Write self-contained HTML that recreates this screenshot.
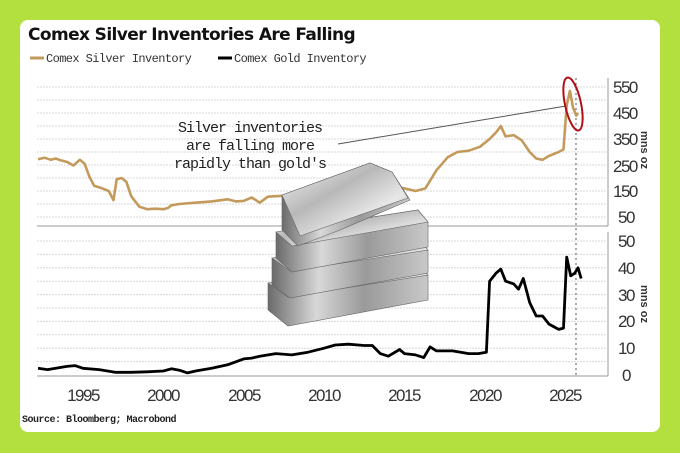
<!DOCTYPE html>
<html><head><meta charset="utf-8"><style>
html,body{margin:0;padding:0;width:680px;height:453px;overflow:hidden;background:#b3e03f;}
</style></head><body>
<svg id="s" width="680" height="453" viewBox="0 0 680 453" xmlns="http://www.w3.org/2000/svg" font-family="Liberation Sans, sans-serif">
<defs>
<linearGradient id="bt" x1="0" y1="0" x2="1" y2="1"><stop offset="0" stop-color="#f4f4f4"/><stop offset="0.4" stop-color="#b8b8b8"/><stop offset="0.7" stop-color="#e8e8e8"/><stop offset="1" stop-color="#8a8a8a"/></linearGradient>
<linearGradient id="bs" x1="0" y1="0" x2="1" y2="0"><stop offset="0" stop-color="#6a6a6a"/><stop offset="0.3" stop-color="#d8d8d8"/><stop offset="0.6" stop-color="#9a9a9a"/><stop offset="1" stop-color="#c8c8c8"/></linearGradient>
</defs>
<rect x="20" y="20" width="640" height="412" rx="8" fill="#fff"/>
<text x="28" y="40" font-size="17" font-weight="bold" fill="#111" font-family="DejaVu Sans, sans-serif" letter-spacing="-0.6">Comex Silver Inventories Are Falling</text>
<line x1="30" y1="58" x2="44" y2="58" stroke="#c39a5c" stroke-width="3"/>
<text x="46" y="62" font-size="12" font-family="Liberation Mono, monospace" fill="#333" letter-spacing="-0.6">Comex Silver Inventory</text>
<line x1="218" y1="58" x2="232" y2="58" stroke="#000" stroke-width="3"/>
<text x="234" y="62" font-size="12" font-family="Liberation Mono, monospace" fill="#333" letter-spacing="-0.6">Comex Gold Inventory</text>
<g id="grid" stroke="#d8d8d8" stroke-dasharray="2,1" stroke-width="1"></g>
<line x1="37" y1="226" x2="608" y2="226" stroke="#999"/>
<line x1="37" y1="376" x2="608" y2="376" stroke="#999"/>
<line x1="608" y1="78" x2="608" y2="226" stroke="#999"/>
<line x1="608" y1="232" x2="608" y2="376" stroke="#999"/>
<line x1="576" y1="78" x2="576" y2="376" stroke="#555" stroke-dasharray="2,3"/>
<g font-size="17" fill="#333" font-family="Liberation Sans Narrow, Liberation Sans, sans-serif" letter-spacing="-1.5">
<text x="613" y="93">550</text><text x="613" y="119">450</text><text x="613" y="145">350</text><text x="613" y="172">250</text><text x="613" y="197">150</text><text x="618" y="223">50</text>
<text x="618" y="247">50</text><text x="618" y="274">40</text><text x="618" y="301">30</text><text x="618" y="327">20</text><text x="618" y="354">10</text><text x="622" y="381">0</text>
<text x="83" y="401" text-anchor="middle">1995</text><text x="163" y="401" text-anchor="middle">2000</text><text x="244" y="401" text-anchor="middle">2005</text><text x="324" y="401" text-anchor="middle">2010</text><text x="404" y="401" text-anchor="middle">2015</text><text x="485" y="401" text-anchor="middle">2020</text><text x="565" y="401" text-anchor="middle">2025</text>
</g>
<text transform="translate(641,150) rotate(90)" font-size="11" font-weight="bold" fill="#333" text-anchor="middle">mns oz</text>
<text transform="translate(641,304) rotate(90)" font-size="11" font-weight="bold" fill="#333" text-anchor="middle">mns oz</text>
<polyline id="sv" fill="none" stroke="#c39a5c" stroke-width="2.6" stroke-linejoin="round"/>
<polyline id="gd" fill="none" stroke="#000" stroke-width="2.8" stroke-linejoin="round"/>
<g font-family="Liberation Mono, monospace" font-size="15" fill="#222" text-anchor="middle" letter-spacing="-1">
<text x="250" y="132">Silver inventories</text><text x="250" y="150">are falling more</text><text x="250" y="168">rapidly than gold's</text>
</g>
<line x1="338" y1="144" x2="566" y2="106" stroke="#555" stroke-width="1"/>
<ellipse cx="573" cy="104" rx="8" ry="27" transform="rotate(-12 573 104)" fill="none" stroke="#b0101a" stroke-width="2"/>
<g stroke="#666" stroke-width="0.6">
<polygon points="268,283 415,263 428,275 428,300 288,326 268,310" fill="url(#bs)"/>
<polygon points="268,283 415,263 428,275 288,297" fill="url(#bt)"/>
<polygon points="272,258 418,238 428,250 428,273 290,298 272,285" fill="url(#bs)"/>
<polygon points="272,258 418,238 428,250 290,271" fill="url(#bt)"/>
<polygon points="276,232 418,210 428,222 428,247 292,272 276,258" fill="url(#bs)"/>
<polygon points="276,232 418,210 428,222 292,246" fill="url(#bt)"/>
<polygon points="282,195 370,163 392,172 410,200 340,230 298,246 282,230" fill="url(#bs)"/>
<polygon points="282,195 370,163 392,172 408,198 300,236" fill="url(#bt)"/>
</g>
<text x="22" y="422" font-size="10" font-weight="bold" font-family="Liberation Mono, monospace" fill="#222" letter-spacing="-0.5">Source: Bloomberg; Macrobond</text>
</svg>
<script>
var X=function(y){return 83+(y-1995)*16.07};
var g=document.getElementById('grid'),h='';
for(var v=50;v<=550;v+=50){var y=217-(v-50)*0.26;h+='<line x1="37" y1="'+y+'" x2="606" y2="'+y+'"/>';}
for(var v=5;v<=50;v+=5){var y=375-v*2.68;h+='<line x1="37" y1="'+y+'" x2="606" y2="'+y+'"/>';}
g.innerHTML=h;
var s=[[1992.2,272],[1992.6,278],[1993,270],[1993.3,275],[1993.6,268],[1994,262],[1994.4,248],[1994.8,270],[1995.1,255],[1995.4,205],[1995.7,170],[1996.2,160],[1996.6,150],[1996.9,115],[1997.1,195],[1997.4,200],[1997.7,185],[1998,130],[1998.5,90],[1999,80],[1999.5,82],[2000,80],[2000.3,85],[2000.5,95],[2001,100],[2002,105],[2003,110],[2004,118],[2004.5,110],[2005,112],[2005.5,125],[2006,105],[2006.5,128],[2007,130],[2008,133],[2009,128],[2010,128],[2011,125],[2012,140],[2013,160],[2014,170],[2015,160],[2015.7,150],[2016.3,160],[2017,230],[2017.7,280],[2018.3,300],[2019,305],[2019.7,320],[2020.3,350],[2020.7,375],[2021,400],[2021.3,360],[2021.8,365],[2022.3,345],[2022.8,300],[2023.2,275],[2023.6,270],[2024,285],[2024.6,300],[2024.9,310],[2025.1,480],[2025.3,535],[2025.5,470],[2025.7,440],[2025.8,450]];
document.getElementById('sv').setAttribute('points',s.map(function(p){return X(p[0]).toFixed(1)+','+(217-(p[1]-50)*0.26).toFixed(1)}).join(' '));
var d=[[1992.2,2.5],[1992.8,2],[1993.3,2.5],[1994,3.2],[1994.5,3.5],[1995,2.5],[1996,2],[1997,1],[1998,1],[1999,1.2],[2000,1.5],[2000.5,2.3],[2001,1.8],[2001.5,0.8],[2002,1.5],[2003,2.5],[2004,3.8],[2005,6],[2005.5,6.3],[2006,7],[2007,8],[2008,7.5],[2009,8.5],[2010,10],[2010.7,11.2],[2011.5,11.5],[2012.5,11],[2013,11],[2013.5,8],[2014,7],[2014.7,9.5],[2015,8],[2015.7,7.5],[2016.2,6.5],[2016.6,10.5],[2017,9],[2018,9],[2019,8],[2019.6,8],[2020.1,8.5],[2020.3,35],[2020.7,38],[2021,39.5],[2021.3,35],[2021.8,34],[2022.1,32],[2022.4,36],[2022.8,27],[2023.2,22],[2023.6,22],[2024,19],[2024.6,17],[2024.9,17.5],[2025.1,44],[2025.35,37],[2025.6,38],[2025.8,40],[2026,36]];
document.getElementById('gd').setAttribute('points',d.map(function(p){return X(p[0]).toFixed(1)+','+(375-p[1]*2.68).toFixed(1)}).join(' '));
</script>
</body></html>
